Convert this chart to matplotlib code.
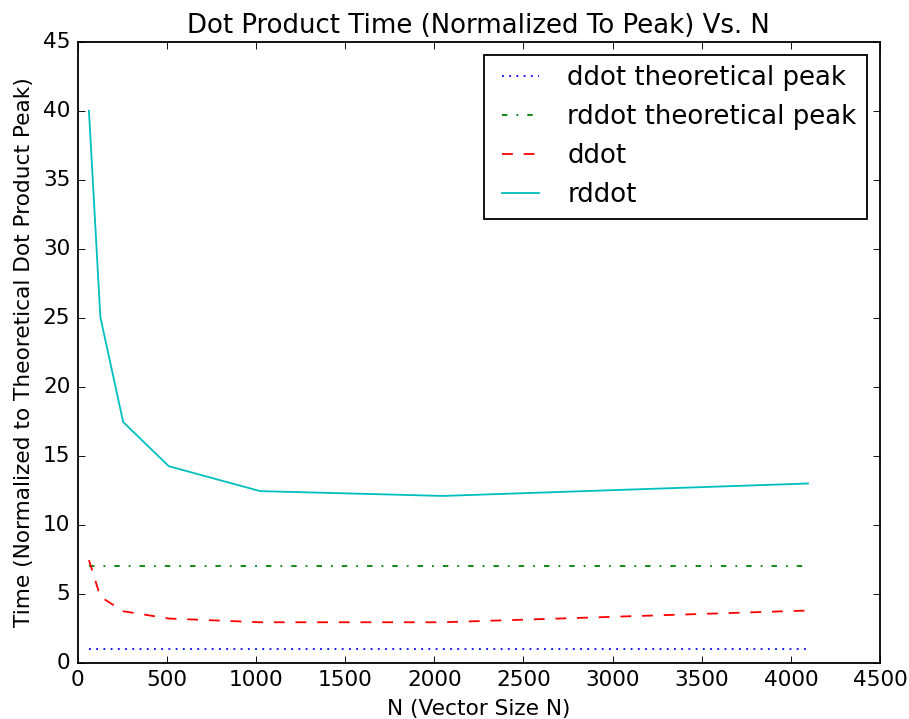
import matplotlib
matplotlib.use("Agg")
import matplotlib.pyplot as plt

plt.style.use('classic')

N = [64, 128, 256, 512, 1024, 2048, 4096]
ddot_peak = [1, 1, 1, 1, 1, 1, 1]
rddot_peak = [7, 7, 7, 7, 7, 7, 7]
ddot = [7.45, 4.8, 3.75, 3.22, 2.95, 2.95, 3.8]
rddot = [40.0, 25.05, 17.45, 14.25, 12.45, 12.1, 13.0]

DPI = 130
fig = plt.figure(figsize=(909 / DPI, 719 / DPI), dpi=DPI)
ax = fig.add_axes([0.0853, 0.0779, 0.8828, 0.8641])
ax.plot(N, ddot_peak, 'b:', label='ddot theoretical peak')
ax.plot(N, rddot_peak, 'g-.', label='rddot theoretical peak')
ax.plot(N, ddot, 'r--', label='ddot')
ax.plot(N, rddot, 'c-', label='rddot')
ax.set_xlim(0, 4500)
ax.set_ylim(0, 45)
ax.set_title('Dot Product Time (Normalized To Peak) Vs. N')
ax.set_xlabel('N (Vector Size N)')
ax.set_ylabel('Time (Normalized to Theoretical Dot Product Peak)')
ax.legend(loc='upper right')
fig.savefig('out.png', dpi=DPI)
